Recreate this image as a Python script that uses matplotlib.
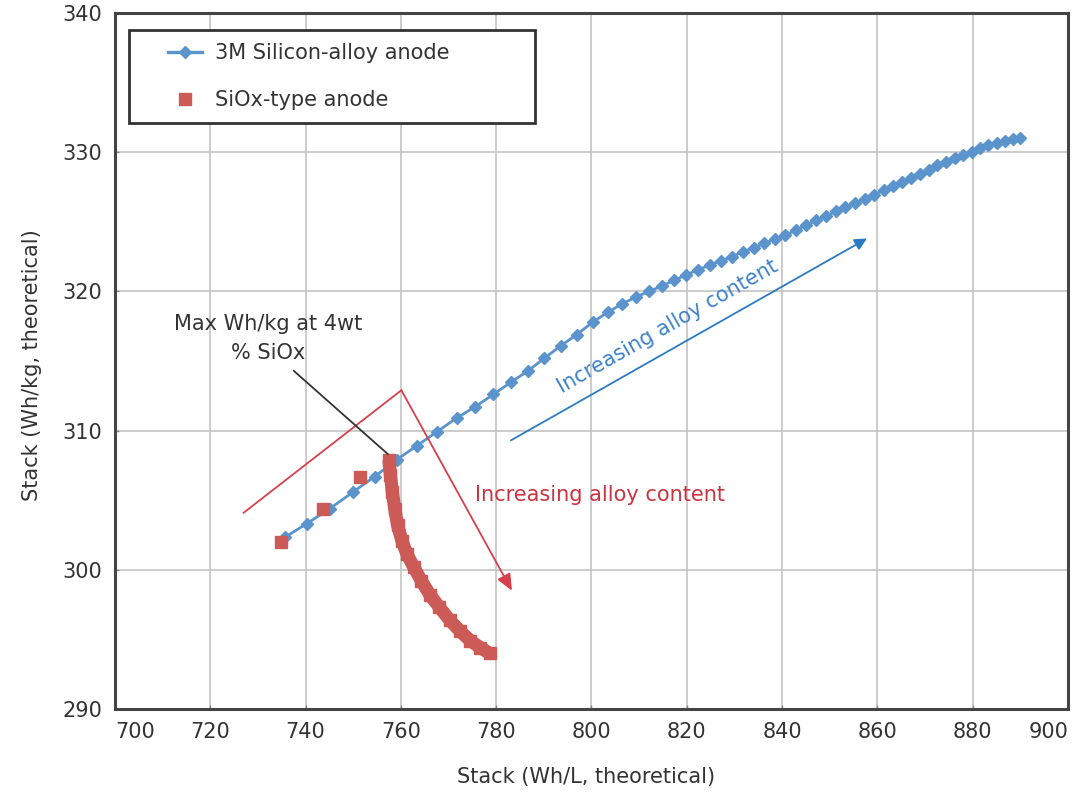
import numpy as np
import matplotlib
matplotlib.use("Agg")
import matplotlib.pyplot as plt
from matplotlib.lines import Line2D
from matplotlib.legend_handler import HandlerLine2D

plt.rcParams['font.family'] = ['DejaVu Sans']

# ---------------- data ----------------
x_ticks = [700, 720, 740, 760, 780, 800, 820, 840, 860, 880, 900]
y_ticks = [290, 300, 310, 320, 330, 340]

si_alloy_x = [735.7, 740.2, 745.1, 750.0, 754.5, 759.1, 763.3, 767.5, 771.7, 775.5,
              779.4, 783.2, 786.7, 790.1, 793.6, 796.9, 800.3, 803.4, 806.4, 809.3,
              812.1, 814.8, 817.4, 819.9, 822.4, 824.8, 827.2, 829.5, 831.8, 834.1,
              836.3, 838.5, 840.7, 842.9, 845.0, 847.1, 849.2, 851.3, 853.3, 855.3,
              857.3, 859.3, 861.3, 863.2, 865.1, 867.0, 868.9, 870.8, 872.6, 874.4,
              876.2, 878.0, 879.8, 881.6, 883.3, 885.0, 886.7, 888.4, 889.9]
si_alloy_y = [302.35, 303.3, 304.4, 305.6, 306.7, 307.9, 308.9, 309.9, 310.9, 311.7,
              312.6, 313.5, 314.3, 315.2, 316.1, 316.9, 317.8, 318.5, 319.1, 319.6,
              320.0, 320.4, 320.8, 321.2, 321.55, 321.9, 322.2, 322.5, 322.85, 323.15,
              323.45, 323.75, 324.05, 324.4, 324.75, 325.1, 325.4, 325.75, 326.05, 326.35,
              326.65, 326.95, 327.25, 327.55, 327.85, 328.15, 328.45, 328.75, 329.05, 329.3,
              329.55, 329.8, 330.05, 330.3, 330.5, 330.65, 330.8, 330.95, 331.05]

siox_x = [734.8, 743.7, 751.4]
siox_y = [302.0, 304.4, 306.7]
siox_band_x = [757.5, 757.8, 758.2, 758.7, 759.3, 760.2, 761.3, 762.7, 764.3, 766.1,
               768.1, 770.2, 772.4, 774.6, 776.7, 778.6]
siox_band_y = [307.9, 306.8, 305.6, 304.4, 303.2, 302.1, 301.1, 300.2, 299.2, 298.2,
               297.3, 296.4, 295.6, 294.9, 294.4, 294.0]

labels = ["3M Silicon-alloy anode", "SiOx-type anode"]

# ---------------- style ----------------
BLUE = '#5b94cc'
RED_SQ = '#cc5b57'
RED_LINE = '#d6404b'
RED_TXT = '#cc3340'
BLUE_ARROW = '#2b7bc4'
BLUE_TXT = '#3d82c8'
DARK = '#333333'
FS = 15

fig = plt.figure(figsize=(10.72, 7.92), dpi=100)
ax = fig.add_axes([115 / 1072, 1 - 709 / 792, 953 / 1072, 696 / 792])

ax.set_xlim(700, 900)
ax.set_ylim(290, 340)
ax.set_xticks(x_ticks)
ax.set_yticks(y_ticks)
ax.set_xticklabels([str(v) for v in x_ticks])
ax.set_yticklabels([str(v) for v in y_ticks])
ax.grid(True, color='#c4c4c4', linewidth=1.2)
ax.set_axisbelow(True)
for s in ax.spines.values():
    s.set_color('#444444')
    s.set_linewidth(2.2)
ax.tick_params(axis='both', direction='in', length=3, width=1, color='#888888',
               labelsize=FS, labelcolor=DARK)
ax.tick_params(axis='x', pad=9)
ax.tick_params(axis='y', pad=9)
xl = ax.get_xticklabels()
xl[0].set_ha('left')
xl[-1].set_ha('right')

# series
ax.plot(si_alloy_x, si_alloy_y, color=BLUE, lw=2.0, marker='D', ms=6.5,
        mfc=BLUE, mec=BLUE, zorder=3)
all_siox_x = siox_x + siox_band_x
all_siox_y = siox_y + siox_band_y
ax.plot(siox_band_x, siox_band_y, color=RED_SQ, lw=9.5, solid_capstyle='butt',
        solid_joinstyle='round', zorder=4)
ax.plot(all_siox_x, all_siox_y, ls='none', marker='s', ms=8.5,
        mfc=RED_SQ, mec=RED_SQ, zorder=4)

# red increasing arrow (chevron)
ax.plot([727.0, 760.1], [304.1, 312.9], color=RED_LINE, lw=1.3, zorder=5)
ax.annotate('', xy=(783.3, 298.5), xytext=(760.1, 312.9),
            arrowprops=dict(arrowstyle='-|>,head_length=0.5,head_width=0.22',
                            color=RED_LINE, lw=1.3,
                            mutation_scale=20, shrinkA=0, shrinkB=0), zorder=5)
ax.text(775.5, 305.36, "Increasing alloy content", color=RED_TXT, fontsize=FS,
        ha='left', va='center', zorder=6)

# blue arrow + rotated text
ax.annotate('', xy=(857.8, 323.8), xytext=(783.1, 309.3),
            arrowprops=dict(arrowstyle='-|>', color=BLUE_ARROW, lw=1.3,
                            mutation_scale=18, shrinkA=0, shrinkB=0), zorder=5)
ax.text(815.9, 317.45, "Increasing alloy content", color=BLUE_TXT, fontsize=FS,
        rotation=29.6, ha='center', va='center', zorder=6)

# max annotation
ax.text(732.1, 316.6, "Max Wh/kg at 4wt\n% SiOx", color=DARK, fontsize=FS,
        ha='center', va='center', multialignment='center', linespacing=1.55, zorder=6)
ax.annotate('', xy=(757.3, 308.3), xytext=(737.5, 314.3),
            arrowprops=dict(arrowstyle='-', color=DARK, lw=1.3,
                            shrinkA=0, shrinkB=0), zorder=7)

# axis labels
ax.set_xlabel("Stack (Wh/L, theoretical)", fontsize=FS, color=DARK)
ax.set_ylabel("Stack (Wh/kg, theoretical)", fontsize=FS, color=DARK)
ax.xaxis.set_label_coords(0.494, -0.083)
ax.yaxis.set_label_coords(-0.0766, 0.494)


# legend
class ShiftedHandler(HandlerLine2D):
    def get_xdata(self, legend, xdescent, ydescent, width, height, fontsize):
        x0 = -xdescent + width * 0.42
        x1 = -xdescent + width
        return np.array([x0, x1]), np.array([(x0 + x1) / 2])


h1 = Line2D([], [], color=BLUE, lw=2.4, marker='D', ms=6.5, mfc=BLUE, mec=BLUE)
h2 = Line2D([], [], ls='none', marker='s', ms=8.5, mfc=RED_SQ, mec=RED_SQ)
leg = ax.legend([h1, h2], labels, loc='upper left',
                bbox_to_anchor=(14 / 953, 1 - 17 / 696, 406 / 953, 0.0),
                mode='expand', borderaxespad=0, frameon=True, fancybox=False,
                framealpha=1, edgecolor='#333333', fontsize=FS,
                borderpad=0.64, labelspacing=1.28, handlelength=2.88,
                handletextpad=0.6,
                handler_map={h1: ShiftedHandler(), h2: ShiftedHandler()})
leg.get_frame().set_linewidth(2)
for t in leg.get_texts():
    t.set_color(DARK)

fig.savefig('out.png', dpi=100)
